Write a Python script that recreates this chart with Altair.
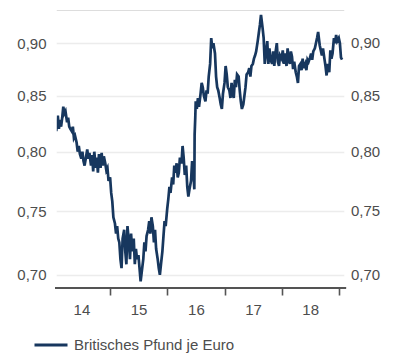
import altair as alt
import pandas as pd

SERIES = "Britisches Pfund je Euro"
LINE_COLOR = "#17375e"

# weekly observations: days 1, 8, 15, 22 of each month (Jan 2014 only 15, 22)
months = ["2014-01"] + [f"{y}-{m:02d}" for y in range(2014, 2019) for m in range(1, 13)][1:] + ["2019-01"]
values_by_month = [
    [0.826, 0.818],                       # 2014-01 (15, 22)
    [0.832, 0.820, 0.828, 0.822],
    [0.830, 0.840, 0.834, 0.836],
    [0.826, 0.830, 0.822, 0.820],
    [0.818, 0.822, 0.812, 0.814],
    [0.808, 0.800, 0.805, 0.798],
    [0.794, 0.800, 0.792, 0.788],
    [0.796, 0.802, 0.794, 0.799],
    [0.788, 0.797, 0.783, 0.800],
    [0.786, 0.795, 0.782, 0.798],
    [0.786, 0.799, 0.788, 0.796],
    [0.790, 0.784, 0.786, 0.775],
    [0.778, 0.765, 0.758, 0.745],         # 2015-01
    [0.740, 0.732, 0.738, 0.728],
    [0.725, 0.712, 0.705, 0.728],
    [0.735, 0.718, 0.708, 0.738],
    [0.725, 0.712, 0.732, 0.718],
    [0.728, 0.708, 0.720, 0.712],
    [0.715, 0.705, 0.695, 0.702],
    [0.712, 0.725, 0.718, 0.730],
    [0.735, 0.742, 0.732, 0.745],
    [0.738, 0.725, 0.735, 0.720],
    [0.712, 0.705, 0.700, 0.708],
    [0.718, 0.730, 0.742, 0.738],
    [0.752, 0.760, 0.770, 0.765],         # 2016-01
    [0.778, 0.772, 0.788, 0.782],
    [0.790, 0.778, 0.782, 0.795],
    [0.790, 0.805, 0.795, 0.780],
    [0.788, 0.770, 0.762, 0.768],
    [0.775, 0.792, 0.785, 0.768],
    [0.845, 0.838, 0.848, 0.840],
    [0.852, 0.862, 0.858, 0.850],
    [0.845, 0.855, 0.852, 0.868],
    [0.880, 0.905, 0.895, 0.900],
    [0.890, 0.868, 0.858, 0.855],
    [0.848, 0.842, 0.838, 0.852],
    [0.862, 0.878, 0.870, 0.858],         # 2017-01
    [0.855, 0.848, 0.862, 0.852],
    [0.848, 0.865, 0.858, 0.870],
    [0.868, 0.855, 0.845, 0.838],
    [0.842, 0.850, 0.858, 0.870],
    [0.872, 0.876, 0.868, 0.878],
    [0.880, 0.885, 0.888, 0.892],
    [0.902, 0.910, 0.918, 0.928],
    [0.915, 0.905, 0.880, 0.890],
    [0.902, 0.880, 0.895, 0.884],
    [0.880, 0.892, 0.878, 0.890],
    [0.900, 0.882, 0.878, 0.888],
    [0.885, 0.893, 0.880, 0.890],         # 2018-01
    [0.878, 0.895, 0.884, 0.880],
    [0.892, 0.887, 0.875, 0.882],
    [0.872, 0.868, 0.862, 0.878],
    [0.880, 0.874, 0.885, 0.876],
    [0.880, 0.874, 0.884, 0.882],
    [0.886, 0.890, 0.884, 0.892],
    [0.895, 0.900, 0.905, 0.911],
    [0.898, 0.893, 0.888, 0.895],
    [0.885, 0.878, 0.869, 0.880],
    [0.872, 0.893, 0.885, 0.890],
    [0.905, 0.900, 0.908, 0.902],
    [0.905, 0.900, 0.886, 0.884],         # 2019-01
]
# extra observations around the Brexit referendum
extra_dates = ["2016-06-24", "2016-06-28"]
extra_values = [0.815, 0.830]

y_ticks = [0.70, 0.75, 0.80, 0.85, 0.90]
year_bounds = [2015, 2016, 2017, 2018, 2019]
year_labels = [2014, 2015, 2016, 2017, 2018]

rows = []
for month, vals in zip(months, values_by_month):
    days = [15, 22] if len(vals) == 2 else [1, 8, 15, 22]
    for d, v in zip(days, vals):
        rows.append((f"{month}-{d:02d}", v))
rows += list(zip(extra_dates, extra_values))
rows.sort()
df = pd.DataFrame(rows, columns=["date", "value"])
df["series"] = SERIES

ticks_df = pd.DataFrame({"value": y_ticks})

FONT = "Liberation Sans"
LABEL_COLOR = "#4d4d4d"
AXIS_COLOR = "#555555"
label_expr_y = "replace(format(datum.value, '.2f'), '.', ',')"

W, H = 291, 278

x_values = ([alt.DateTime(year=y, month=1, date=1) for y in year_bounds]
            + [alt.DateTime(year=y, month=7, date=2) for y in year_labels])

x_scale = alt.Scale(domain=[alt.DateTime(year=2014, month=1, date=14),
                            alt.DateTime(year=2019, month=2, date=16)])
y_scale = alt.Scale(type="log", domain=[0.69, 0.933], nice=False)

y_axis = alt.Axis(
    orient="left", values=y_ticks, labelExpr=label_expr_y, grid=True,
    gridColor="#ececec", gridWidth=1.5, ticks=False, domain=False,
    labelPadding=9, labelFontSize=15, labelFont=FONT, labelColor=LABEL_COLOR, title=None)

line = alt.Chart(df).mark_line(strokeWidth=2.7, clip=False).encode(
    x=alt.X("date:T", scale=x_scale, axis=alt.Axis(
        orient="bottom", values=x_values,
        labelExpr="month(datum.value) == 6 ? timeFormat(datum.value, '%y') : ''",
        ticks=True, tickSize=7, tickWidth=1.6, tickColor=AXIS_COLOR,
        tickOpacity={"condition": {"test": "month(datum.value) == 0", "value": 1}, "value": 0},
        domain=False, grid=False,
        labelPadding=7, labelFontSize=15, labelFont=FONT, labelColor=LABEL_COLOR,
        labelFlush=False, labelOverlap=False, title=None)),
    y=alt.Y("value:Q", scale=y_scale, axis=y_axis),
    color=alt.Color("series:N", scale=alt.Scale(range=[LINE_COLOR]), legend=alt.Legend(
        orient="none", legendX=-22, legendY=317, title=None, symbolType="stroke",
        symbolSize=1089, symbolStrokeWidth=3, labelFontSize=15, labelFont=FONT,
        labelColor=LABEL_COLOR, labelOffset=5, labelLimit=400, padding=0)),
)

# white covers over the frame edges at the plot's left and right sides
edge_left = alt.Chart(ticks_df).mark_rule(color="white", strokeWidth=2.5, clip=False).encode(
    x=alt.value(0), y=alt.value(-2), y2=alt.value(H - 1),
)
edge_right = alt.Chart(ticks_df).mark_rule(color="white", strokeWidth=2.5, clip=False).encode(
    x=alt.value(W), y=alt.value(-2), y2=alt.value(H - 1),
)

baseline = alt.Chart(ticks_df).mark_rule(color=AXIS_COLOR, strokeWidth=1.6, clip=False).encode(
    x=alt.value(0), x2=alt.value(W), y=alt.value(H),
)

right_labels = alt.Chart(ticks_df).transform_calculate(
    label=label_expr_y
).mark_text(align="left", baseline="middle", font=FONT, fontSize=15,
            color=LABEL_COLOR, clip=False).encode(
    x=alt.value(W + 5),
    y=alt.Y("value:Q", axis=y_axis),
    text="label:N",
)

chart = alt.layer(line, edge_left, edge_right, baseline, right_labels).properties(
    width=W, height=H,
    autosize=alt.AutoSizeParams(type="none"),
    padding={"left": 55, "top": 10, "right": 50, "bottom": 65},
).configure_view(stroke=None, strokeWidth=0).configure_axis(
    domain=False
).configure(background="white")

chart.save("out.html", embed_options={"renderer": "svg", "actions": False})
